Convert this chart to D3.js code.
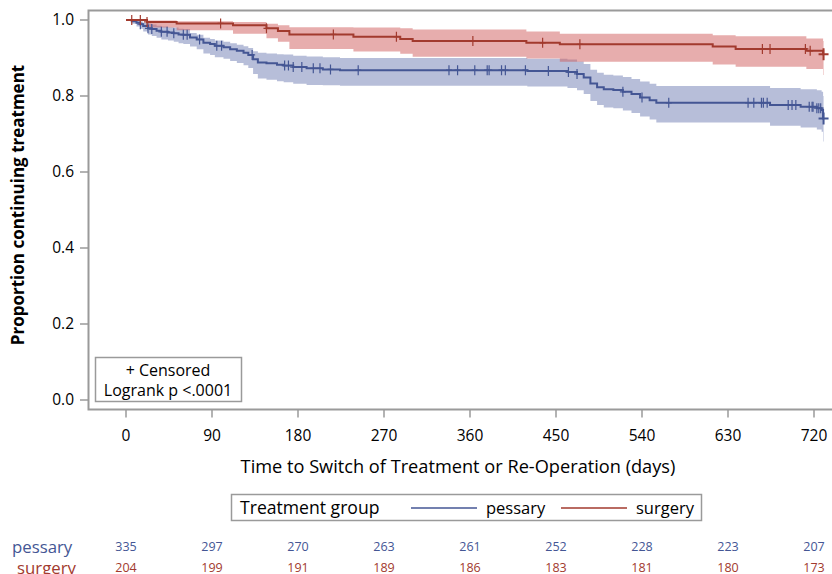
<!DOCTYPE html>
<html>
<head>
<meta charset="utf-8">
<script src="https://cdn.jsdelivr.net/npm/d3@7"></script>
<style>
  body { margin: 0; background: #fff; }
  text { font-family: "Open Sans", "DejaVu Sans", sans-serif; }
</style>
</head>
<body>
<div id="chart"></div>
<script>
// tick labels
const xTicks = [0, 90, 180, 270, 360, 450, 540, 630, 720];
const yTicks = [0, 0.2, 0.4, 0.6, 0.8, 1.0];

// pessary KM steps (days, survival, lower / upper CI)
const pessaryTime  = [0, 6, 11, 15, 18, 23, 27, 32, 37, 44, 50, 55, 60, 67, 74, 81, 88, 93, 102, 109, 116, 123, 128, 133, 138, 147, 158, 165, 175, 189, 206, 224, 420, 462, 472, 479, 486, 493, 500, 510, 520, 529, 538, 548, 555, 674, 706, 723, 728, 729.5, 730];
const pessarySurv  = [1, 0.997, 0.993, 0.989, 0.984, 0.978, 0.976, 0.972, 0.969, 0.967, 0.965, 0.962, 0.961, 0.954, 0.949, 0.940, 0.937, 0.932, 0.928, 0.923, 0.919, 0.914, 0.908, 0.897, 0.888, 0.886, 0.882, 0.880, 0.876, 0.873, 0.870, 0.868, 0.866, 0.863, 0.858, 0.849, 0.833, 0.823, 0.818, 0.816, 0.811, 0.805, 0.796, 0.789, 0.782, 0.776, 0.772, 0.768, 0.763, 0.741, 0.741];
const pessaryLower = [1, 0.990, 0.983, 0.977, 0.970, 0.962, 0.958, 0.953, 0.949, 0.946, 0.943, 0.939, 0.937, 0.930, 0.923, 0.912, 0.908, 0.902, 0.898, 0.892, 0.887, 0.881, 0.874, 0.858, 0.846, 0.843, 0.839, 0.836, 0.832, 0.829, 0.828, 0.827, 0.825, 0.821, 0.815, 0.805, 0.787, 0.776, 0.770, 0.768, 0.762, 0.755, 0.746, 0.738, 0.730, 0.722, 0.717, 0.712, 0.706, 0.680, 0.680];
const pessaryUpper = [1, 1.000, 0.999, 0.996, 0.993, 0.990, 0.988, 0.985, 0.983, 0.981, 0.980, 0.977, 0.976, 0.966, 0.961, 0.953, 0.950, 0.946, 0.943, 0.939, 0.935, 0.931, 0.926, 0.918, 0.914, 0.912, 0.910, 0.909, 0.906, 0.904, 0.902, 0.900, 0.898, 0.896, 0.891, 0.884, 0.869, 0.861, 0.856, 0.854, 0.850, 0.845, 0.838, 0.832, 0.826, 0.821, 0.818, 0.815, 0.811, 0.800, 0.800];

// surgery KM steps
const surgeryTime  = [0, 22, 53, 112, 147, 159, 171, 238, 287, 300, 419, 454, 614, 638, 712, 729.5, 730];
const surgerySurv  = [1, 0.995, 0.991, 0.986, 0.978, 0.971, 0.962, 0.956, 0.950, 0.945, 0.940, 0.936, 0.930, 0.924, 0.919, 0.910, 0.910];
const surgeryLower = [1, 0.980, 0.973, 0.964, 0.952, 0.943, 0.924, 0.917, 0.911, 0.903, 0.899, 0.890, 0.883, 0.877, 0.871, 0.855, 0.855];
const surgeryUpper = [1, 0.999, 0.997, 0.995, 0.990, 0.986, 0.981, 0.980, 0.978, 0.975, 0.970, 0.964, 0.960, 0.957, 0.951, 0.945, 0.945];

// censored times (days)
const pessaryCensor = [15, 23, 27, 37, 43, 50, 60, 64, 77, 95, 100, 132, 166, 170, 175, 184, 196, 203, 214, 243, 338, 347, 365, 378, 380, 393, 397, 418, 442, 463, 472, 520, 540, 568, 651, 657, 665, 667, 671, 693, 697, 701, 715, 718, 719, 723, 725, 727, 730];
const surgeryCensor = [6, 15, 22, 99, 147, 217, 283, 363, 436, 475, 666, 674, 711, 716, 730];

// numbers at risk
const pessaryAtRisk = [335, 297, 270, 263, 261, 252, 228, 223, 207];
const surgeryAtRisk = [204, 199, 191, 189, 186, 183, 181, 180, 173];

const blue = "#445694", red = "#A23A2E";
const blueFill = "#6F7EB3", redFill = "#D05B5B";

const W = 832, H = 574;
const svg = d3.select("#chart").append("svg")
  .attr("width", W).attr("height", H);

const x = d3.scaleLinear().domain([0, 720]).range([126, 814]);
const y = d3.scaleLinear().domain([0, 1]).range([400, 20]);

const frameLeft = 88.5, frameTop = 10.5, frameBottom = 409.5;

function rows(t, s, lo, hi) {
  return t.map((d, i) => ({t: d, s: s[i], lo: lo[i], hi: hi[i]}));
}
const groups = [
  {name: "pessary", data: rows(pessaryTime, pessarySurv, pessaryLower, pessaryUpper), censor: pessaryCensor, color: blue, fill: blueFill},
  {name: "surgery", data: rows(surgeryTime, surgerySurv, surgeryLower, surgeryUpper), censor: surgeryCensor, color: red, fill: redFill}
];

// bands
const band = d3.area().curve(d3.curveStepAfter)
  .x(d => x(d.t)).y0(d => y(d.lo)).y1(d => y(d.hi));
svg.append("g").selectAll("path")
  .data(groups)
  .join("path")
    .attr("d", g => band(g.data))
    .attr("fill", g => g.fill)
    .attr("fill-opacity", 0.5);

// KM lines
const line = d3.line().curve(d3.curveStepAfter)
  .x(d => x(d.t)).y(d => y(d.s));
svg.append("g").selectAll("path")
  .data(groups)
  .join("path")
    .attr("d", g => line(g.data))
    .attr("fill", "none")
    .attr("stroke", g => g.color)
    .attr("stroke-width", 2);

// censor marks
const bis = d3.bisector(d => d.t).right;
groups.forEach(g => {
  svg.append("g").selectAll("path")
    .data(g.censor)
    .join("path")
      .attr("transform", c => {
        const r = g.data[Math.max(0, bis(g.data, c) - 1)];
        return `translate(${x(c)},${y(r.s)})`;
      })
      .attr("d", c => c >= 730 ? "M-5,0H5M0,-6V6" : "M-3,0H3M0,-5V5")
      .attr("stroke", g.color)
      .attr("stroke-width", c => c >= 730 ? 2 : 1.2)
      .attr("fill", "none");
});

// frame
svg.append("path")
  .attr("d", `M${W + 5},${frameTop}H${frameLeft}V${frameBottom}H${W + 5}`)
  .attr("fill", "none").attr("stroke", "#9a9a9a").attr("stroke-width", 2);

// y axis
const yAxis = svg.append("g");
yAxis.selectAll("line").data(yTicks).join("line")
  .attr("x1", 80).attr("x2", frameLeft)
  .attr("y1", d => y(d)).attr("y2", d => y(d))
  .attr("stroke", "#9a9a9a").attr("stroke-width", 1.5);
yAxis.selectAll("text").data(yTicks).join("text")
  .attr("x", 74).attr("y", d => y(d))
  .attr("dy", "0.35em").attr("text-anchor", "end")
  .attr("font-size", 15.5).attr("fill", "#000")
  .text(d => d3.format(".1f")(d));
svg.append("text")
  .attr("transform", `translate(24,${y(0.5) - 5}) rotate(-90)`)
  .attr("text-anchor", "middle")
  .attr("font-size", 17).attr("font-weight", "bold")
  .text("Proportion continuing treatment");

// x axis
const xAxis = svg.append("g");
xAxis.selectAll("line").data(xTicks).join("line")
  .attr("x1", d => x(d)).attr("x2", d => x(d))
  .attr("y1", frameBottom).attr("y2", frameBottom + 8)
  .attr("stroke", "#9a9a9a").attr("stroke-width", 1.5);
xAxis.selectAll("text").data(xTicks).join("text")
  .attr("x", d => x(d)).attr("y", 436)
  .attr("dy", "0.35em").attr("text-anchor", "middle")
  .attr("font-size", 15.5)
  .text(d => d);
svg.append("text")
  .attr("x", 458).attr("y", 467).attr("dy", "0.35em")
  .attr("text-anchor", "middle").attr("font-size", 18.2)
  .text("Time to Switch of Treatment or Re-Operation (days)");

// censored / logrank box
svg.append("rect")
  .attr("x", 95.5).attr("y", 357.5).attr("width", 146).attr("height", 44)
  .attr("fill", "#fff").attr("stroke", "#9a9a9a").attr("stroke-width", 1.5);
svg.append("text")
  .attr("x", 168).attr("y", 370).attr("dy", "0.35em")
  .attr("text-anchor", "middle").attr("font-size", 16)
  .text("+ Censored");
svg.append("text")
  .attr("x", 168).attr("y", 390).attr("dy", "0.35em")
  .attr("text-anchor", "middle").attr("font-size", 16)
  .text("Logrank p <.0001");

// legend
const leg = svg.append("g");
leg.append("rect")
  .attr("x", 231.5).attr("y", 494.5).attr("width", 470).attr("height", 26)
  .attr("fill", "#fff").attr("stroke", "#9a9a9a").attr("stroke-width", 1.5);
leg.append("text")
  .attr("x", 240).attr("y", 508).attr("dy", "0.35em")
  .attr("font-size", 17.6).text("Treatment group");
const legItems = [
  {name: "pessary", color: blue, x0: 411},
  {name: "surgery", color: red, x0: 561}
];
leg.selectAll("line").data(legItems).join("line")
  .attr("x1", d => d.x0).attr("x2", d => d.x0 + 66)
  .attr("y1", 508).attr("y2", 508)
  .attr("stroke", d => d.color).attr("stroke-width", 1.5);
leg.selectAll("text.item").data(legItems).join("text")
  .attr("class", "item")
  .attr("x", d => d.x0 + 75).attr("y", 508).attr("dy", "0.35em")
  .attr("font-size", 16.5).text(d => d.name);

// numbers at risk
const riskRows = [
  {name: "pessary", vals: pessaryAtRisk, color: blue, y: 547, lx: 12},
  {name: "surgery", vals: surgeryAtRisk, color: red, y: 568, lx: 17}
];
riskRows.forEach(r => {
  svg.append("text")
    .attr("x", r.lx).attr("y", r.y).attr("dy", "0.35em")
    .attr("font-size", 16.8).attr("fill", r.color)
    .text(r.name);
  svg.append("g").selectAll("text")
    .data(r.vals)
    .join("text")
      .attr("x", (d, i) => x(xTicks[i])).attr("y", r.y).attr("dy", "0.35em")
      .attr("text-anchor", "middle").attr("font-size", 12.5)
      .attr("fill", r.color)
      .text(d => d);
});
</script>
</body>
</html>
